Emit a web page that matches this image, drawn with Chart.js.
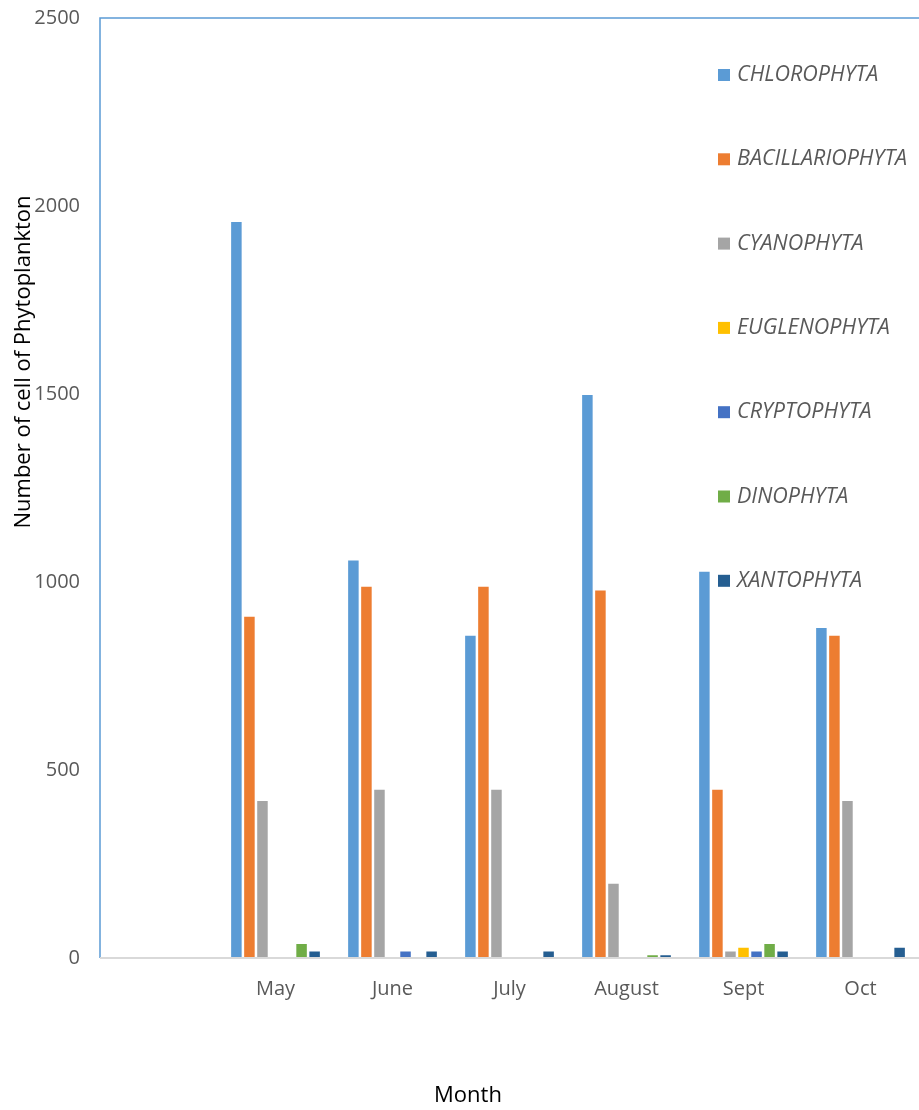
<!DOCTYPE html>
<html>
<head>
<meta charset="utf-8">
<script src="https://cdn.jsdelivr.net/npm/chart.js@4"></script>
<style>
  html, body { margin: 0; padding: 0; background: #fff; }
  #wrap { width: 919px; height: 1110px; }
</style>
</head>
<body>
<div id="wrap"><canvas id="myChart"></canvas></div>
<script>
// categories (first slot is empty in the original chart)
const months = ['', 'May', 'June', 'July', 'August', 'Sept', 'Oct'];
const yTicks = [0, 500, 1000, 1500, 2000, 2500];

const chlorophyta     = [0, 1960, 1060, 860, 1500, 1030, 880];
const bacillariophyta = [0, 910, 990, 990, 980, 450, 860];
const cyanophyta      = [0, 420, 450, 450, 200, 20, 420];
const euglenophyta    = [0, 0, 0, 0, 0, 30, 0];
const cryptophyta     = [0, 0, 20, 0, 0, 20, 0];
const dinophyta       = [0, 40, 0, 0, 10, 40, 0];
const xantophyta      = [0, 20, 20, 20, 10, 20, 30];

const FONT = '"Open Sans", "DejaVu Sans", sans-serif';
const GREY = '#595959';

function serie(label, data, color) {
  return {
    label: label,
    data: data,
    backgroundColor: color,
    borderColor: 'rgba(255,255,255,0.5)',
    borderWidth: 1,
    categoryPercentage: 0.78,
    barPercentage: 0.96
  };
}

// legend, axis titles and the plot frame, drawn the way the original shows them
const extras = {
  id: 'extras',
  afterDraw(chart) {
    const ctx = chart.ctx;
    const a = chart.chartArea;
    ctx.save();
    // frame: blue left/top, grey base line
    ctx.strokeStyle = '#5b9bd5';
    ctx.lineWidth = 1.5;
    ctx.beginPath();
    ctx.moveTo(a.left, a.bottom);
    ctx.lineTo(a.left, a.top);
    ctx.lineTo(a.right, a.top);
    ctx.stroke();
    ctx.strokeStyle = '#d9d9d9';
    ctx.lineWidth = 2;
    ctx.beginPath();
    ctx.moveTo(a.left, a.bottom);
    ctx.lineTo(a.right, a.bottom);
    ctx.stroke();

    // legend
    ctx.font = 'italic 21.5px ' + FONT;
    ctx.textBaseline = 'middle';
    ctx.textAlign = 'left';
    chart.data.datasets.forEach(function (ds, i) {
      const y = 75 + i * 84.3;
      ctx.fillStyle = ds.backgroundColor;
      ctx.fillRect(718, y - 6, 12, 12);
      ctx.fillStyle = GREY;
      ctx.fillText(ds.label, 737, y);
    });

    // axis titles
    ctx.fillStyle = '#000';
    ctx.font = '22px ' + FONT;
    ctx.textAlign = 'center';
    ctx.fillText('Month', 468, 1096);
    ctx.translate(24, 362);
    ctx.rotate(-Math.PI / 2);
    ctx.fillText('Number of cell of Phytoplankton', 0, 0);
    ctx.restore();
  }
};

const ctx = document.getElementById('myChart');
const myChart = new Chart(ctx, {
  type: 'bar',
  data: {
    labels: months,
    datasets: [
      serie('CHLOROPHYTA', chlorophyta, '#5b9bd5'),
      serie('BACILLARIOPHYTA', bacillariophyta, '#ed7d31'),
      serie('CYANOPHYTA', cyanophyta, '#a5a5a5'),
      serie('EUGLENOPHYTA', euglenophyta, '#ffc000'),
      serie('CRYPTOPHYTA', cryptophyta, '#4472c4'),
      serie('DINOPHYTA', dinophyta, '#70ad47'),
      serie('XANTOPHYTA', xantophyta, '#255e91')
    ]
  },
  options: {
    responsive: true,
    maintainAspectRatio: false,
    animation: false,
    layout: { padding: { top: 18, right: 0, left: 0, bottom: 0 } },
    plugins: {
      legend: { display: false },
      tooltip: { enabled: false }
    },
    scales: {
      x: {
        grid: { display: false, drawTicks: false },
        border: { display: false },
        ticks: { color: GREY, font: { family: FONT, size: 20 }, padding: 19 },
        afterFit(s) { s.height = 152; s.paddingLeft = 0; s.paddingRight = 0; }
      },
      y: {
        min: 0,
        max: 2500,
        grid: { display: false, drawTicks: false },
        border: { display: false },
        afterBuildTicks(s) { s.ticks = yTicks.map(v => ({ value: v })); },
        ticks: {
          color: GREY,
          font: { family: FONT, size: 20 },
          padding: 20,
          callback: v => String(v)
        },
        afterFit(s) { s.width = 100; s.paddingTop = 0; s.paddingBottom = 0; }
      }
    }
  },
  plugins: [extras]
});
</script>
</body>
</html>
